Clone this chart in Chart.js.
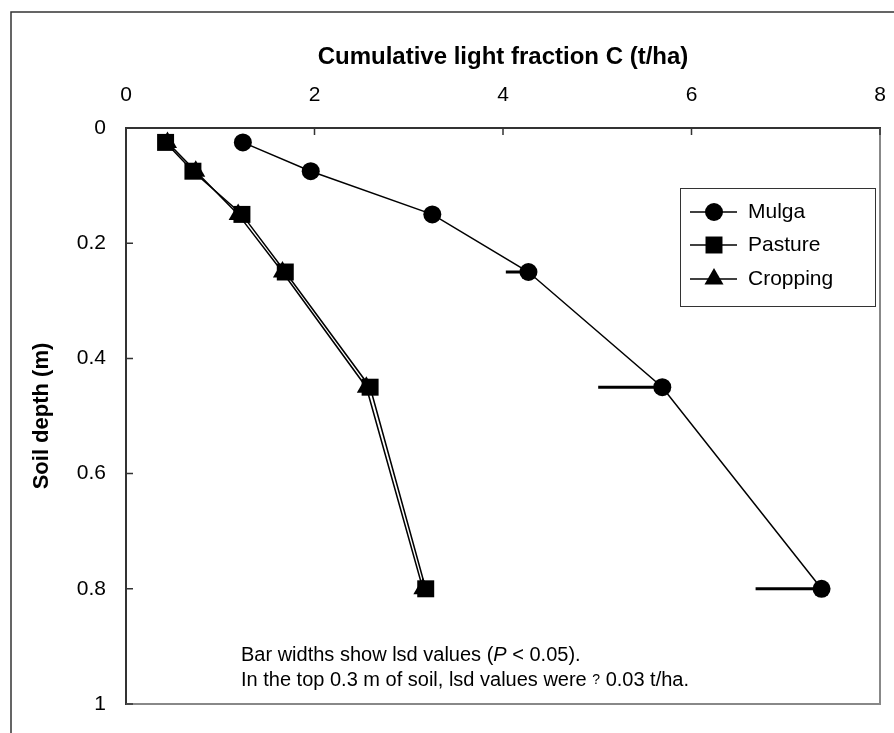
<!DOCTYPE html>
<html>
<head>
<meta charset="utf-8">
<title>Cumulative light fraction C</title>
<script src="https://cdn.jsdelivr.net/npm/chart.js@4.4.0/dist/chart.umd.min.js"></script>
<style>
    html, body { margin: 0; padding: 0; background: #fff; }
    #contenedor { width: 894px; height: 733px; }
</style>
</head>
<body>
<div id="contenedor"><canvas id="grafica" width="894" height="733"></canvas></div>
<script>
// Profundidad del suelo (m) para cada muestra
var profundidades = [0.025, 0.075, 0.15, 0.25, 0.45, 0.8];

// C acumulado de la fraccion ligera (t/ha)
var carbonoMulga    = [1.24, 1.96, 3.25, 4.27, 5.69, 7.38];
var carbonoPasture  = [0.42, 0.71, 1.23, 1.69, 2.59, 3.18];
var carbonoCropping = [0.44, 0.74, 1.19, 1.66, 2.55, 3.15];

// Ancho de las barras lsd (P < 0.05), solo visibles en Mulga
var lsdMulga = [null, null, null, 0.24, 0.68, 0.70];

var nombresSeries = ['Mulga', 'Pasture', 'Cropping'];
var ticksX = [0, 2, 4, 6, 8];
var ticksY = [0, 0.2, 0.4, 0.6, 0.8, 1];

var fuente = '"Liberation Sans", Arial, Helvetica, sans-serif';

function puntos(valores) {
    return valores.map(function(v, i) {
        return { x: v, y: profundidades[i] };
    });
}

// Dibuja un marcador como los del grafico (para la leyenda)
function dibujarMarcador(ctx, estilo, x, y, r) {
    ctx.beginPath();
    if (estilo === 'circle') {
        ctx.arc(x, y, r, 0, Math.PI * 2);
    } else if (estilo === 'rect') {
        var s = r * Math.SQRT1_2;
        ctx.rect(x - s, y - s, 2 * s, 2 * s);
    } else {
        ctx.moveTo(x, y - r);
        ctx.lineTo(x + r * 0.866, y + r / 2);
        ctx.lineTo(x - r * 0.866, y + r / 2);
        ctx.closePath();
    }
    ctx.fill();
}

// Escribe una linea de texto con trozos de distinta fuente
function escribirLinea(ctx, trozos, x, y) {
    trozos.forEach(function(t) {
        ctx.font = t[1];
        ctx.fillText(t[0], x, y);
        x += ctx.measureText(t[0]).width;
    });
}

var extras = {
    id: 'extras',
    afterDatasetsDraw: function(chart) {
        var ctx = chart.ctx;
        var ejeX = chart.scales.x;
        var ejeY = chart.scales.y;

        // Barras lsd hacia la izquierda del punto
        ctx.save();
        ctx.strokeStyle = '#000';
        ctx.lineWidth = 3;
        lsdMulga.forEach(function(lsd, i) {
            if (lsd === null) return;
            var y = ejeY.getPixelForValue(profundidades[i]);
            ctx.beginPath();
            ctx.moveTo(ejeX.getPixelForValue(carbonoMulga[i] - lsd), y);
            ctx.lineTo(ejeX.getPixelForValue(carbonoMulga[i]), y);
            ctx.stroke();
        });
        ctx.restore();
    },
    afterDraw: function(chart) {
        var ctx = chart.ctx;
        var area = chart.chartArea;
        var ejeX = chart.scales.x;
        var ejeY = chart.scales.y;
        ctx.save();

        // Marco exterior (solo izquierda y arriba)
        ctx.strokeStyle = '#333';
        ctx.lineWidth = 1.5;
        ctx.beginPath();
        ctx.moveTo(11, chart.height + 5);
        ctx.lineTo(11, 12);
        ctx.lineTo(chart.width + 5, 12);
        ctx.stroke();

        // Bordes derecho e inferior del area en gris
        ctx.strokeStyle = '#888';
        ctx.lineWidth = 2;
        ctx.beginPath();
        ctx.moveTo(area.left, area.bottom);
        ctx.lineTo(area.right, area.bottom);
        ctx.lineTo(area.right, area.top);
        ctx.stroke();

        // Marcas hacia dentro
        ctx.strokeStyle = '#333';
        ctx.lineWidth = 1.5;
        ctx.beginPath();
        ticksX.forEach(function(v) {
            var x = ejeX.getPixelForValue(v);
            ctx.moveTo(x, area.top);
            ctx.lineTo(x, area.top + 7);
        });
        ticksY.forEach(function(v) {
            var y = ejeY.getPixelForValue(v);
            ctx.moveTo(area.left, y);
            ctx.lineTo(area.left + 7, y);
        });
        ctx.stroke();

        // Leyenda dentro del grafico
        var caja = { x: 680, y: 188, w: 195, h: 118 };
        var filas = [212, 245, 279];
        ctx.strokeStyle = '#333';
        ctx.lineWidth = 1;
        ctx.strokeRect(caja.x + 0.5, caja.y + 0.5, caja.w, caja.h);
        ctx.fillStyle = '#000';
        ctx.strokeStyle = '#000';
        ctx.textBaseline = 'middle';
        ctx.textAlign = 'left';
        chart.data.datasets.forEach(function(ds, i) {
            var y = filas[i];
            ctx.lineWidth = 1.5;
            ctx.beginPath();
            ctx.moveTo(690, y);
            ctx.lineTo(737, y);
            ctx.stroke();
            dibujarMarcador(ctx, ds.pointStyle, 714, y, ds.pointRadius);
            ctx.font = '21px ' + fuente;
            ctx.fillText(ds.label, 748, y);
        });

        // Nota al pie
        var normal = '20px ' + fuente;
        escribirLinea(ctx, [
            ['Bar widths show lsd values (', normal],
            ['P', 'italic 20px ' + fuente],
            [' < 0.05).', normal]
        ], 241, 655);
        escribirLinea(ctx, [
            ['In the top 0.3 m of soil, lsd values were ', normal],
            ['?', '14px ' + fuente],
            [' 0.03 t/ha.', normal]
        ], 241, 680);

        ctx.restore();
    }
};

var comun = {
    showLine: true,
    borderColor: '#000',
    backgroundColor: '#000',
    pointBackgroundColor: '#000',
    pointBorderColor: '#000',
    pointBorderWidth: 0,
    pointHoverRadius: 9,
    borderWidth: 1.5,
    tension: 0
};

var ctxGrafica = document.getElementById('grafica').getContext('2d');
var miGrafica = new Chart(ctxGrafica, {
    type: 'scatter',
    data: {
        datasets: [
            Object.assign({ label: nombresSeries[0], data: puntos(carbonoMulga), pointStyle: 'circle', pointRadius: 9 }, comun),
            Object.assign({ label: nombresSeries[1], data: puntos(carbonoPasture), pointStyle: 'rect', pointRadius: 12 }, comun),
            Object.assign({ label: nombresSeries[2], data: puntos(carbonoCropping), pointStyle: 'triangle', pointRadius: 11 }, comun)
        ]
    },
    options: {
        responsive: false,
        animation: false,
        devicePixelRatio: 1,
        layout: { padding: { left: 11, top: 11, right: 14, bottom: 29 } },
        plugins: {
            legend: { display: false },
            tooltip: { enabled: false }
        },
        scales: {
            x: {
                type: 'linear',
                position: 'top',
                min: 0,
                max: 8,
                afterBuildTicks: function(eje) {
                    eje.ticks = ticksX.map(function(v) { return { value: v }; });
                },
                afterFit: function(eje) {
                    eje.height = 117;
                    eje.paddingLeft = 0;
                    eje.paddingRight = 0;
                },
                grid: { display: false, drawTicks: false },
                border: { display: true, color: '#333', width: 2 },
                ticks: {
                    color: '#000',
                    padding: 20,
                    autoSkip: false,
                    maxRotation: 0,
                    font: { family: fuente, size: 21 }
                },
                title: {
                    display: true,
                    text: 'Cumulative light fraction C (t/ha)',
                    color: '#000',
                    padding: { top: 32, bottom: 0 },
                    font: { family: fuente, size: 24, weight: 'bold' }
                }
            },
            y: {
                type: 'linear',
                reverse: true,
                min: 0,
                max: 1,
                afterBuildTicks: function(eje) {
                    eje.ticks = ticksY.map(function(v) { return { value: v }; });
                },
                afterFit: function(eje) {
                    eje.width = 115;
                    eje.paddingTop = 0;
                    eje.paddingBottom = 0;
                },
                grid: { display: false, drawTicks: false },
                border: { display: true, color: '#333', width: 2 },
                ticks: {
                    color: '#000',
                    padding: 20,
                    autoSkip: false,
                    font: { family: fuente, size: 21 },
                    callback: function(valor) { return String(valor); }
                },
                title: {
                    display: true,
                    text: 'Soil depth (m)',
                    color: '#000',
                    padding: { top: 18, bottom: 0 },
                    font: { family: fuente, size: 22, weight: 'bold' }
                }
            }
        }
    },
    plugins: [extras]
});
</script>
</body>
</html>
